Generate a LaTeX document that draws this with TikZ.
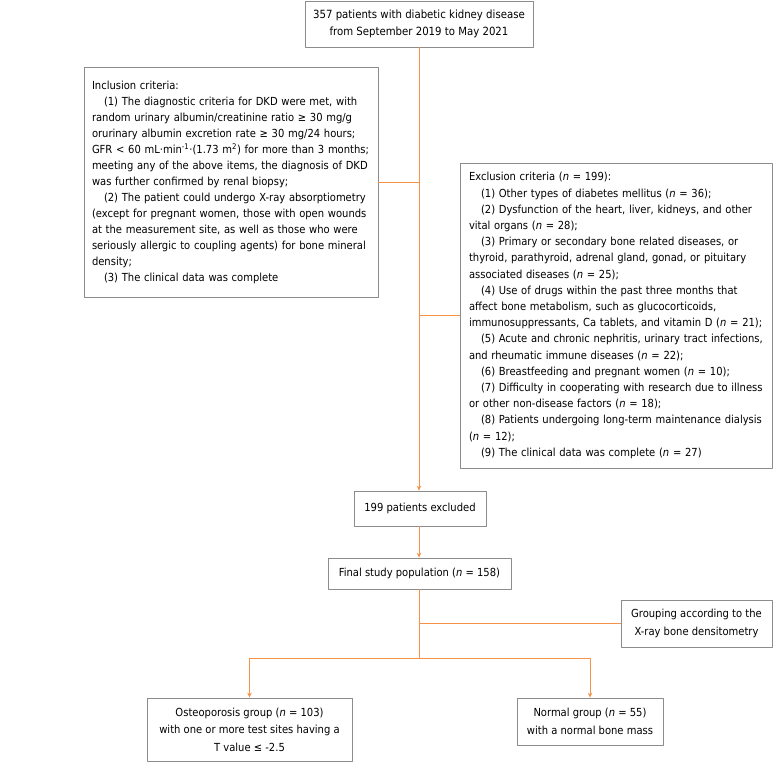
\documentclass[tikz,border=0pt]{standalone}
\usepackage{fontspec}
\setmainfont{DejaVu Sans Condensed}
\usetikzlibrary{arrows.meta,positioning}
\definecolor{flowline}{RGB}{246,146,72}
\definecolor{boxline}{RGB}{140,140,140}
\newcommand{\itemgap}{\hspace*{12pt}}
\newcommand{\nn}{\textit{n}}
\tikzset{
  box/.style={draw=boxline,line width=.8pt,fill=white,inner sep=0pt,align=center,
    font=\fontsize{11.1}{17.5}\selectfont},
  listbox/.style={box,align=left,inner xsep=9pt,inner ysep=0pt},
  flow/.style={draw=flowline,line width=.8pt}
}
\begin{document}
\begin{tikzpicture}[x=1pt,y=-1pt,>={Stealth[length=5pt,width=4.5pt]},line join=round]
\useasboundingbox (0,0) rectangle (781,769);
% boxes
\node[box,font=\fontsize{11.3}{17.5}\selectfont,minimum width=228pt,minimum height=46pt] (pop) at (419,24)
  {357 patients with diabetic kidney disease\\from September 2019 to May 2021};
\node[listbox,font=\fontsize{11.1}{16}\selectfont,inner xsep=8pt,text width=278pt,minimum height=230pt] (incl) at (231,182)
  {Inclusion criteria:\\
  \itemgap(1) The diagnostic criteria for DKD were met, with\\
  random urinary albumin/creatinine ratio ≥ 30 mg/g\\
  orurinary albumin excretion rate ≥ 30 mg/24 hours;\\
  \mbox{GFR < 60 mL·min\textsuperscript{-1}·(1.73 m\textsuperscript{2}) for more than 3 months;}\\
  meeting any of the above items, the diagnosis of DKD\\
  was further confirmed by renal biopsy;\\
  \itemgap(2) The patient could undergo X-ray absorptiometry\\
  (except for pregnant women, those with open wounds\\
  at the measurement site, as well as those who were\\
  seriously allergic to coupling agents) for bone mineral\\
  density;\\
  \itemgap(3) The clinical data was complete};
\node[listbox,font=\fontsize{11.1}{16.2}\selectfont,text width=294pt,minimum height=305pt] (excl) at (616,315.5)
  {Exclusion criteria (\nn{} = 199):\\
  \itemgap(1) Other types of diabetes mellitus (\nn{} = 36);\\
  \itemgap(2) Dysfunction of the heart, liver, kidneys, and other\\
  vital organs (\nn{} = 28);\\
  \itemgap(3) Primary or secondary bone related diseases, or\\
  thyroid, parathyroid, adrenal gland, gonad, or pituitary\\
  associated diseases (\nn{} = 25);\\
  \itemgap(4) Use of drugs within the past three months that\\
  affect bone metabolism, such as glucocorticoids,\\
  immunosuppressants, Ca tablets, and vitamin D (\nn{} = 21);\\
  \itemgap(5) Acute and chronic nephritis, urinary tract infections,\\
  and rheumatic immune diseases (\nn{} = 22);\\
  \itemgap(6) Breastfeeding and pregnant women (\nn{} = 10);\\
  \itemgap(7) Difficulty in cooperating with research due to illness\\
  or other non-disease factors (\nn{} = 18);\\
  \itemgap(8) Patients undergoing long-term maintenance dialysis\\
  (\nn{} = 12);\\
  \itemgap(9) The clinical data was complete (\nn{} = 27)};
\node[box,minimum width=132pt,minimum height=35pt] (excluded) at (420,508.5) {199 patients excluded};
\node[box,minimum width=183pt,minimum height=31pt] (final) at (419.5,573.5) {Final study population (\nn{} = 158)};
\node[box,minimum width=151pt,minimum height=47pt] (group) at (696.5,623.5)
  {Grouping according to the\\X-ray bone densitometry};
\node[box,minimum width=205pt,minimum height=63pt] (osteo) at (249.5,729.5)
  {Osteoporosis group (\nn{} = 103)\\with one or more test sites having a\\T value ≤ -2.5};
\node[box,minimum width=146pt,minimum height=47pt] (normal) at (590,721.5)
  {Normal group (\nn{} = 55)\\with a normal bone mass};
% connectors
\coordinate (split) at (419,658);
\draw[flow,->] (pop.south -| 419,0) -- (excluded.north -| 419,0);
\draw[flow] (incl.east) -- (incl.east -| 419,0);
\draw[flow] (excl.west) -- (excl.west -| 419,0);
\draw[flow,->] (excluded.south -| 419,0) -- (final.north -| 419,0);
\draw[flow] (final.south -| split) -- (split);
\draw[flow] (group.west) -- (group.west -| split);
\draw[flow,->] (split) -| (osteo.north);
\draw[flow,->] (split) -| (normal.north);
\end{tikzpicture}
\end{document}
